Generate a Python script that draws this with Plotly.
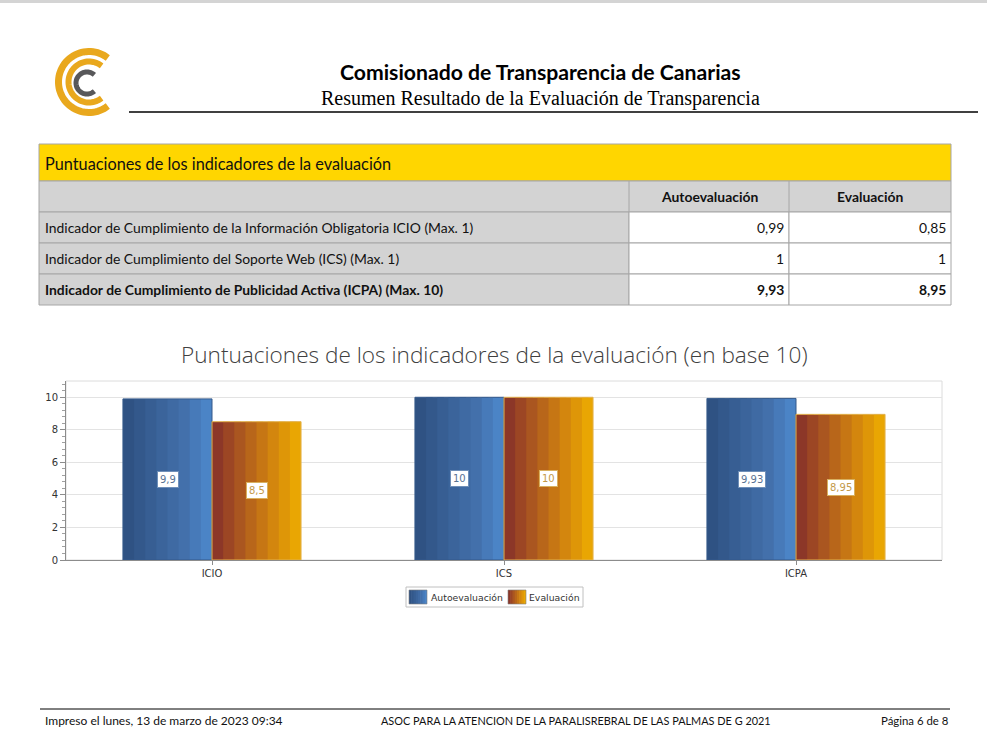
import numpy as np
import plotly.graph_objects as go

W, H = 987, 755

# ---------------- data ----------------
org_title = "Comisionado de Transparencia de Canarias"
report_title = "Resumen Resultado de la Evaluación de Transparencia"
table_title = "Puntuaciones de los indicadores de la evaluación"
table_cols = ["Autoevaluación", "Evaluación"]
table_rows = [
    "Indicador de Cumplimiento de la Información Obligatoria ICIO (Max. 1)",
    "Indicador de Cumplimiento del Soporte Web (ICS) (Max. 1)",
    "Indicador de Cumplimiento de Publicidad Activa (ICPA) (Max. 10)",
]
table_auto = [0.99, 1, 9.93]
table_eval = [0.85, 1, 8.95]

chart_title = "Puntuaciones de los indicadores de la evaluación (en base 10)"
categories = ["ICIO", "ICS", "ICPA"]
auto_scores = [9.9, 10, 9.93]
eval_scores = [8.5, 10, 8.95]
series_names = ["Autoevaluación", "Evaluación"]
y_ticks = [0, 2, 4, 6, 8, 10]

footer_left = "Impreso el lunes, 13 de marzo de 2023 09:34"
footer_center = "ASOC PARA LA ATENCION DE LA PARALISREBRAL DE LAS PALMAS DE G 2021"
footer_right = "Página 6 de 8"


def fmt(v):
    return f"{v:g}".replace(".", ",")


def px(x):
    return x / W


def py(y):
    return 1 - y / H


fig = go.Figure()
shapes = []
ann = []

# top gray strip
shapes.append(dict(type="rect", xref="paper", yref="paper", x0=0, x1=1, y0=py(3), y1=1,
                   fillcolor="#d4d4d4", line_width=0, layer="below"))

# ---------------- logo ----------------
def arc_path(cx, cy, r, a0, a1, n=60):
    ang = np.radians(np.linspace(a0, a1, n))
    xs = cx + r * np.cos(ang)
    ys = cy - r * np.sin(ang)
    pts = [f"{px(x):.5f},{py(y):.5f}" for x, y in zip(xs, ys)]
    return "M " + " L ".join(pts)

shapes.append(dict(type="path", xref="paper", yref="paper",
                   path=arc_path(89, 82, 30.5, 52, 308), line=dict(color="#E9A81D", width=7)))
shapes.append(dict(type="path", xref="paper", yref="paper",
                   path=arc_path(89, 82, 20.5, 52, 308), line=dict(color="#E9A81D", width=6)))
shapes.append(dict(type="path", xref="paper", yref="paper",
                   path=arc_path(87, 83, 11, 48, 312), line=dict(color="#58585A", width=5)))

# header
ann.append(dict(text=f"<b>{org_title}</b>", x=px(540), y=py(72), xref="paper", yref="paper",
                showarrow=False, xanchor="center", yanchor="middle",
                font=dict(family="Lato", size=21.2, color="#000")))
ann.append(dict(text=report_title, x=px(540), y=py(99), xref="paper", yref="paper",
                showarrow=False, xanchor="center", yanchor="middle",
                font=dict(family="Liberation Serif", size=20, color="#000")))
shapes.append(dict(type="line", xref="paper", yref="paper", x0=px(129), x1=px(978),
                   y0=py(112), y1=py(112), line=dict(color="#000", width=1.5)))

# ---------------- table ----------------
TL, TR = 39, 951
C1, C2 = 629, 789
row_y = [144, 181, 212, 243, 274, 305]
grid = "#a6a6a6"
shapes.append(dict(type="rect", xref="paper", yref="paper", x0=px(TL), x1=px(TR),
                   y0=py(row_y[1]), y1=py(row_y[0]), fillcolor="#FFD600", line=dict(color=grid, width=1)))
shapes.append(dict(type="rect", xref="paper", yref="paper", x0=px(TL), x1=px(TR),
                   y0=py(row_y[2]), y1=py(row_y[1]), fillcolor="#D3D3D3", line=dict(color=grid, width=1)))
for i in range(len(table_rows)):
    y0, y1 = row_y[i + 2], row_y[i + 3]
    shapes.append(dict(type="rect", xref="paper", yref="paper", x0=px(TL), x1=px(C1),
                       y0=py(y1), y1=py(y0), fillcolor="#D3D3D3", line=dict(color=grid, width=1)))
    shapes.append(dict(type="rect", xref="paper", yref="paper", x0=px(C1), x1=px(C2),
                       y0=py(y1), y1=py(y0), fillcolor="#FFFFFF", line=dict(color=grid, width=1)))
    shapes.append(dict(type="rect", xref="paper", yref="paper", x0=px(C2), x1=px(TR),
                       y0=py(y1), y1=py(y0), fillcolor="#FFFFFF", line=dict(color=grid, width=1)))
shapes.append(dict(type="line", xref="paper", yref="paper", x0=px(C1), x1=px(C1),
                   y0=py(row_y[2]), y1=py(row_y[1]), line=dict(color=grid, width=1)))
shapes.append(dict(type="line", xref="paper", yref="paper", x0=px(C2), x1=px(C2),
                   y0=py(row_y[2]), y1=py(row_y[1]), line=dict(color=grid, width=1)))

tfont = dict(family="Lato", size=13.9, color="#111")
ann.append(dict(text=table_title, x=px(43), y=py(163), xref="paper", yref="paper", showarrow=False,
                xanchor="left", yanchor="middle", font=dict(family="Lato", size=16.3, color="#111")))
ann.append(dict(text=f"<b>{table_cols[0]}</b>", x=px((C1 + C2) / 2), y=py(197), xref="paper", yref="paper",
                showarrow=False, xanchor="center", yanchor="middle", font=tfont))
ann.append(dict(text=f"<b>{table_cols[1]}</b>", x=px((C2 + TR) / 2), y=py(197), xref="paper", yref="paper",
                showarrow=False, xanchor="center", yanchor="middle", font=tfont))
for i, lab in enumerate(table_rows):
    yc = (row_y[i + 2] + row_y[i + 3]) / 2
    bold = i == len(table_rows) - 1
    wrap = (lambda s: f"<b>{s}</b>") if bold else (lambda s: s)
    ann.append(dict(text=wrap(lab), x=px(43), y=py(yc), xref="paper", yref="paper", showarrow=False,
                    xanchor="left", yanchor="middle", font=tfont))
    ann.append(dict(text=wrap(fmt(table_auto[i])), x=px(C2 - 3), y=py(yc), xref="paper", yref="paper",
                    showarrow=False, xanchor="right", yanchor="middle", font=tfont))
    ann.append(dict(text=wrap(fmt(table_eval[i])), x=px(TR - 3), y=py(yc), xref="paper", yref="paper",
                    showarrow=False, xanchor="right", yanchor="middle", font=tfont))

# ---------------- chart ----------------
ann.append(dict(text=chart_title, x=px(494), y=py(355), xref="paper", yref="paper", showarrow=False,
                xanchor="center", yanchor="middle",
                font=dict(family="Open Sans", size=22.6, color="#404040", weight=300)))

blue_stripes = ["#2f5283", "#33588b", "#375e93", "#3b649b", "#3f6aa3", "#4370ab", "#477ab9", "#4b84c6"]
orange_stripes = ["#8c3728", "#9c4624", "#aa5620", "#b8661a", "#c67614", "#d3860e", "#de9608", "#e9a603"]
bar_w = 0.305
n = len(blue_stripes)
sw = bar_w / n

for s, (name, vals, cols, start, edge) in enumerate([
        (series_names[0], auto_scores, blue_stripes, -bar_w, "#35598a"),
        (series_names[1], eval_scores, orange_stripes, 0.0, "#e3b24e")]):
    for k in range(n):
        fig.add_bar(x=categories, y=vals, width=sw * (1.6 if k < n - 1 else 1.0), offset=start + k * sw,
                    name=name, showlegend=False,
                    marker=dict(color=cols[k], line=dict(width=0)), hoverinfo="skip")
    fig.add_bar(x=categories, y=vals, width=bar_w, offset=start, name=name,
                showlegend=False, marker=dict(color="rgba(0,0,0,0)", line=dict(color=edge, width=1)),
                hoverinfo="skip")

for i, c in enumerate(categories):
    ann.append(dict(text=fmt(auto_scores[i]), x=c, y=auto_scores[i] / 2, xref="x", yref="y",
                    xshift=-44.5, showarrow=False, bgcolor="#ffffff", bordercolor="#6f8fb8",
                    borderwidth=1, borderpad=2, font=dict(family="DejaVu Sans", size=10, color="#5a7394")))
    ann.append(dict(text=fmt(eval_scores[i]), x=c, y=eval_scores[i] / 2, xref="x", yref="y",
                    xshift=44.5, showarrow=False, bgcolor="#ffffff", bordercolor="#d8b060",
                    borderwidth=1, borderpad=2, font=dict(family="DejaVu Sans", size=10, color="#c49a4a")))

# plot frame
shapes.append(dict(type="rect", xref="x domain", yref="y domain", x0=0, x1=1, y0=0, y1=1,
                   line=dict(color="#dcdcdc", width=1), layer="below"))

# manual legend (box, gradient swatches, labels)
shapes.append(dict(type="rect", xref="paper", yref="paper", x0=px(406), x1=px(583),
                   y0=py(607), y1=py(587), fillcolor="#ffffff", line=dict(color="#c0c0c0", width=1)))
for x0, cols in [(409, blue_stripes), (508, orange_stripes)]:
    w = 18 / len(cols)
    for k, col in enumerate(cols):
        shapes.append(dict(type="rect", xref="paper", yref="paper", x0=px(x0 + k * w),
                           x1=px(x0 + (k + 1) * w + (0.6 if k < len(cols) - 1 else 0)),
                           y0=py(604), y1=py(590), fillcolor=col, line_width=0))
    shapes.append(dict(type="rect", xref="paper", yref="paper", x0=px(x0), x1=px(x0 + 18),
                       y0=py(604), y1=py(590), line=dict(color="#7f7f7f", width=0.6)))
lfont = dict(family="DejaVu Sans", size=9.3, color="#333")
ann.append(dict(text=series_names[0], x=px(429), y=py(597), xref="paper", yref="paper", showarrow=False,
                xanchor="left", yanchor="middle", font=lfont))
ann.append(dict(text=series_names[1], x=px(527), y=py(597), xref="paper", yref="paper", showarrow=False,
                xanchor="left", yanchor="middle", font=lfont))

# footer
shapes.append(dict(type="line", xref="paper", yref="paper", x0=px(40), x1=px(950),
                   y0=py(709), y1=py(709), line=dict(color="#000", width=1)))
ann.append(dict(text=footer_left, x=px(43), y=py(720), xref="paper", yref="paper", showarrow=False,
                xanchor="left", yanchor="middle", font=dict(family="Lato", size=12, color="#111")))
ann.append(dict(text=footer_center, x=px(576), y=py(720), xref="paper", yref="paper", showarrow=False,
                xanchor="center", yanchor="middle", font=dict(family="Lato", size=10.9, color="#111")))
ann.append(dict(text=footer_right, x=px(951), y=py(720), xref="paper", yref="paper", showarrow=False,
                xanchor="right", yanchor="middle", font=dict(family="Lato", size=11.4, color="#111")))

fig.update_layout(
    template="none",
    width=W, height=H, margin=dict(l=0, r=0, t=0, b=0),
    paper_bgcolor="#ffffff", plot_bgcolor="#ffffff",
    barmode="overlay", shapes=shapes, annotations=ann,
    showlegend=False,
    xaxis=dict(domain=[px(66), px(942)], range=[-0.5, 2.5], type="category",
               showline=True, linecolor="#8c8c8c", linewidth=1, ticks="outside", ticklen=4,
               tickcolor="#8c8c8c", showgrid=False, zeroline=False,
               tickfont=dict(family="DejaVu Sans", size=10, color="#333"), fixedrange=True),
    yaxis=dict(domain=[py(560), py(381)], range=[0, 11], tickvals=y_ticks,
               showline=True, linecolor="#8c8c8c", linewidth=1, ticks="outside", ticklen=5,
               tickcolor="#8c8c8c", showgrid=True, gridcolor="#e3e3e3", zeroline=False,
               minor=dict(dtick=0.4, ticks="outside", ticklen=3, tickcolor="#a0a0a0", showgrid=False),
               tickfont=dict(family="DejaVu Sans", size=10, color="#333"), fixedrange=True),
)

fig.write_html("out.html")
